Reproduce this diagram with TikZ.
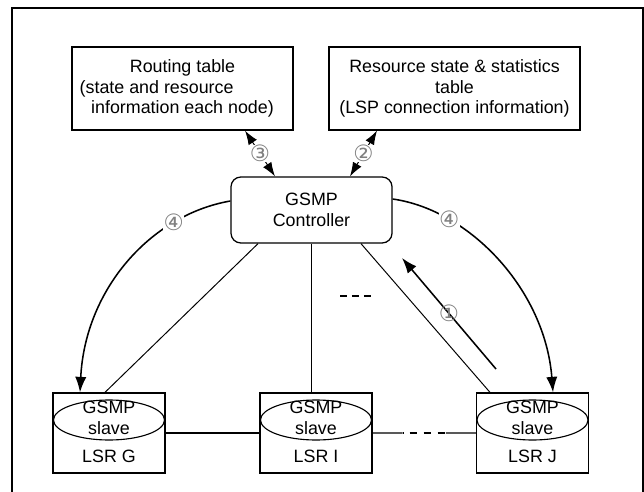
\documentclass[tikz,border=0pt]{standalone}
\usepackage{fontspec}
\setmainfont{Liberation Sans}
\newfontfamily\circfont{DejaVu Sans}
\usetikzlibrary{shapes.geometric,arrows.meta,calc}
\tikzstyle{Table}=[rectangle, draw=black, line width=0.9pt, align=center, inner sep=0pt]
\tikzstyle{Ctrl}=[rectangle, rounded corners=7pt, draw=black, line width=0.9pt, align=center, minimum width=4.025cm, minimum height=1.65cm]
\tikzstyle{Lsr}=[rectangle, draw=black, line width=0.9pt, minimum width=2.8cm, minimum height=2cm]
\tikzstyle{Slave}=[ellipse, draw=black, line width=0.8pt, minimum width=2.775cm, minimum height=1cm, inner sep=0pt]
\tikzstyle{Num}=[font=\circfont\fontsize{16}{16}\selectfont, text=gray, inner sep=0.3pt]
\tikzstyle{Arr}=[-{Latex[length=11pt,width=8pt]}]
\tikzstyle{DArr}=[{Latex[length=10pt,width=7pt]}-{Latex[length=10pt,width=7pt]}]

\begin{document}
\begin{tikzpicture}[x=0.025cm, y=-0.025cm, font=\fontsize{12.7}{14.6}\selectfont, line width=0.7pt]
    \useasboundingbox (0,0) rectangle (644,492);
    \draw[line width=0.8pt] (12,520) -- (12,8) -- (643,8) -- (643,520);
    \path
    (182.5,88.5) node[Table, minimum width=5.525cm, minimum height=2.075cm] (routing) {Routing table\\(state and resource\rule{2.9em}{0pt}\\information each node)}
    (454.5,88.5) node[Table, minimum width=6.275cm, minimum height=2.075cm] (resource) {Resource state \& statistics\\table\\(LSP connection information)}
    (311.5,210) node[Ctrl] (ctrl) {GSMP\\Controller};
    \path
    (109,433) node[Lsr] (G) {}
    (316,433) node[Lsr] (I) {}
    (532.5,433) node[Lsr] (J) {};
    \path
    (109,420) node[Slave] (Gs) {}
    (316,420) node[Slave] (Is) {}
    (532.5,420) node[Slave] (Js) {}
    (109,418) node[align=center] (Gt) {GSMP\\slave}
    (316,418) node[align=center] (It) {GSMP\\slave}
    (532.5,418) node[align=center] (Jt) {GSMP\\slave}
    (109,462) node[anchor=base] (Gl) {LSR G}
    (316,462) node[anchor=base] (Il) {LSR I}
    (532.5,462) node[anchor=base] (Jl) {LSR J};

    \draw[DArr] ($(routing.south)+(62.5,0)$) -- node[Num, fill=white] {③} ($(ctrl.north)+(-36.5,0)$);
    \draw[DArr] ($(resource.south)+(-77.5,0)$) -- node[Num, fill=white] {②} ($(ctrl.north)+(38.5,0)$);

    \draw ($(ctrl.south)+(-53.5,0)$) -- ($(G.north)+(-4,0)$);
    \draw (ctrl.south) -- (ctrl.south |- I.north);
    \draw ($(ctrl.south)+(49.5,0)$) -- ($(J.north)+(-42.5,0)$);

    \draw[Arr, line width=1.1pt] ($(ctrl.west)+(0,-9)$) .. controls (150,215) and (85,290) .. node[Num, pos=0.25, fill=white] {④} ($(G.north)+(-29,0)$);
    \draw[Arr, line width=1.1pt] ($(ctrl.east)+(0,-11)$) .. controls (470,210) and (545,290) .. node[Num, pos=0.25, fill=white] {④} ($(J.north)+(20.5,0)$);

    \coordinate (upA) at (496,369);
    \coordinate (upB) at (402,258);
    \draw[Arr, line width=1.1pt] (upA) -- node[Num] {①} (upB);

    \coordinate (dotsA) at (340,296);
    \coordinate (dotsB) at (373,296);
    \draw[line width=1.2pt, dash pattern=on 5pt off 3.5pt] (dotsA) -- (dotsB);

    \draw[line width=1pt] (G.east) -- (I.west);
    \draw[line width=1pt] (I.east) -- ($(I.east)!0.29!(J.west)$);
    \draw[line width=1pt, dash pattern=on 5.5pt off 4.5pt, dash phase=5pt] ($(I.east)!0.29!(J.west)$) -- ($(I.east)!0.71!(J.west)$);
    \draw[line width=1pt] ($(I.east)!0.71!(J.west)$) -- (J.west);
\end{tikzpicture}
\end{document}
